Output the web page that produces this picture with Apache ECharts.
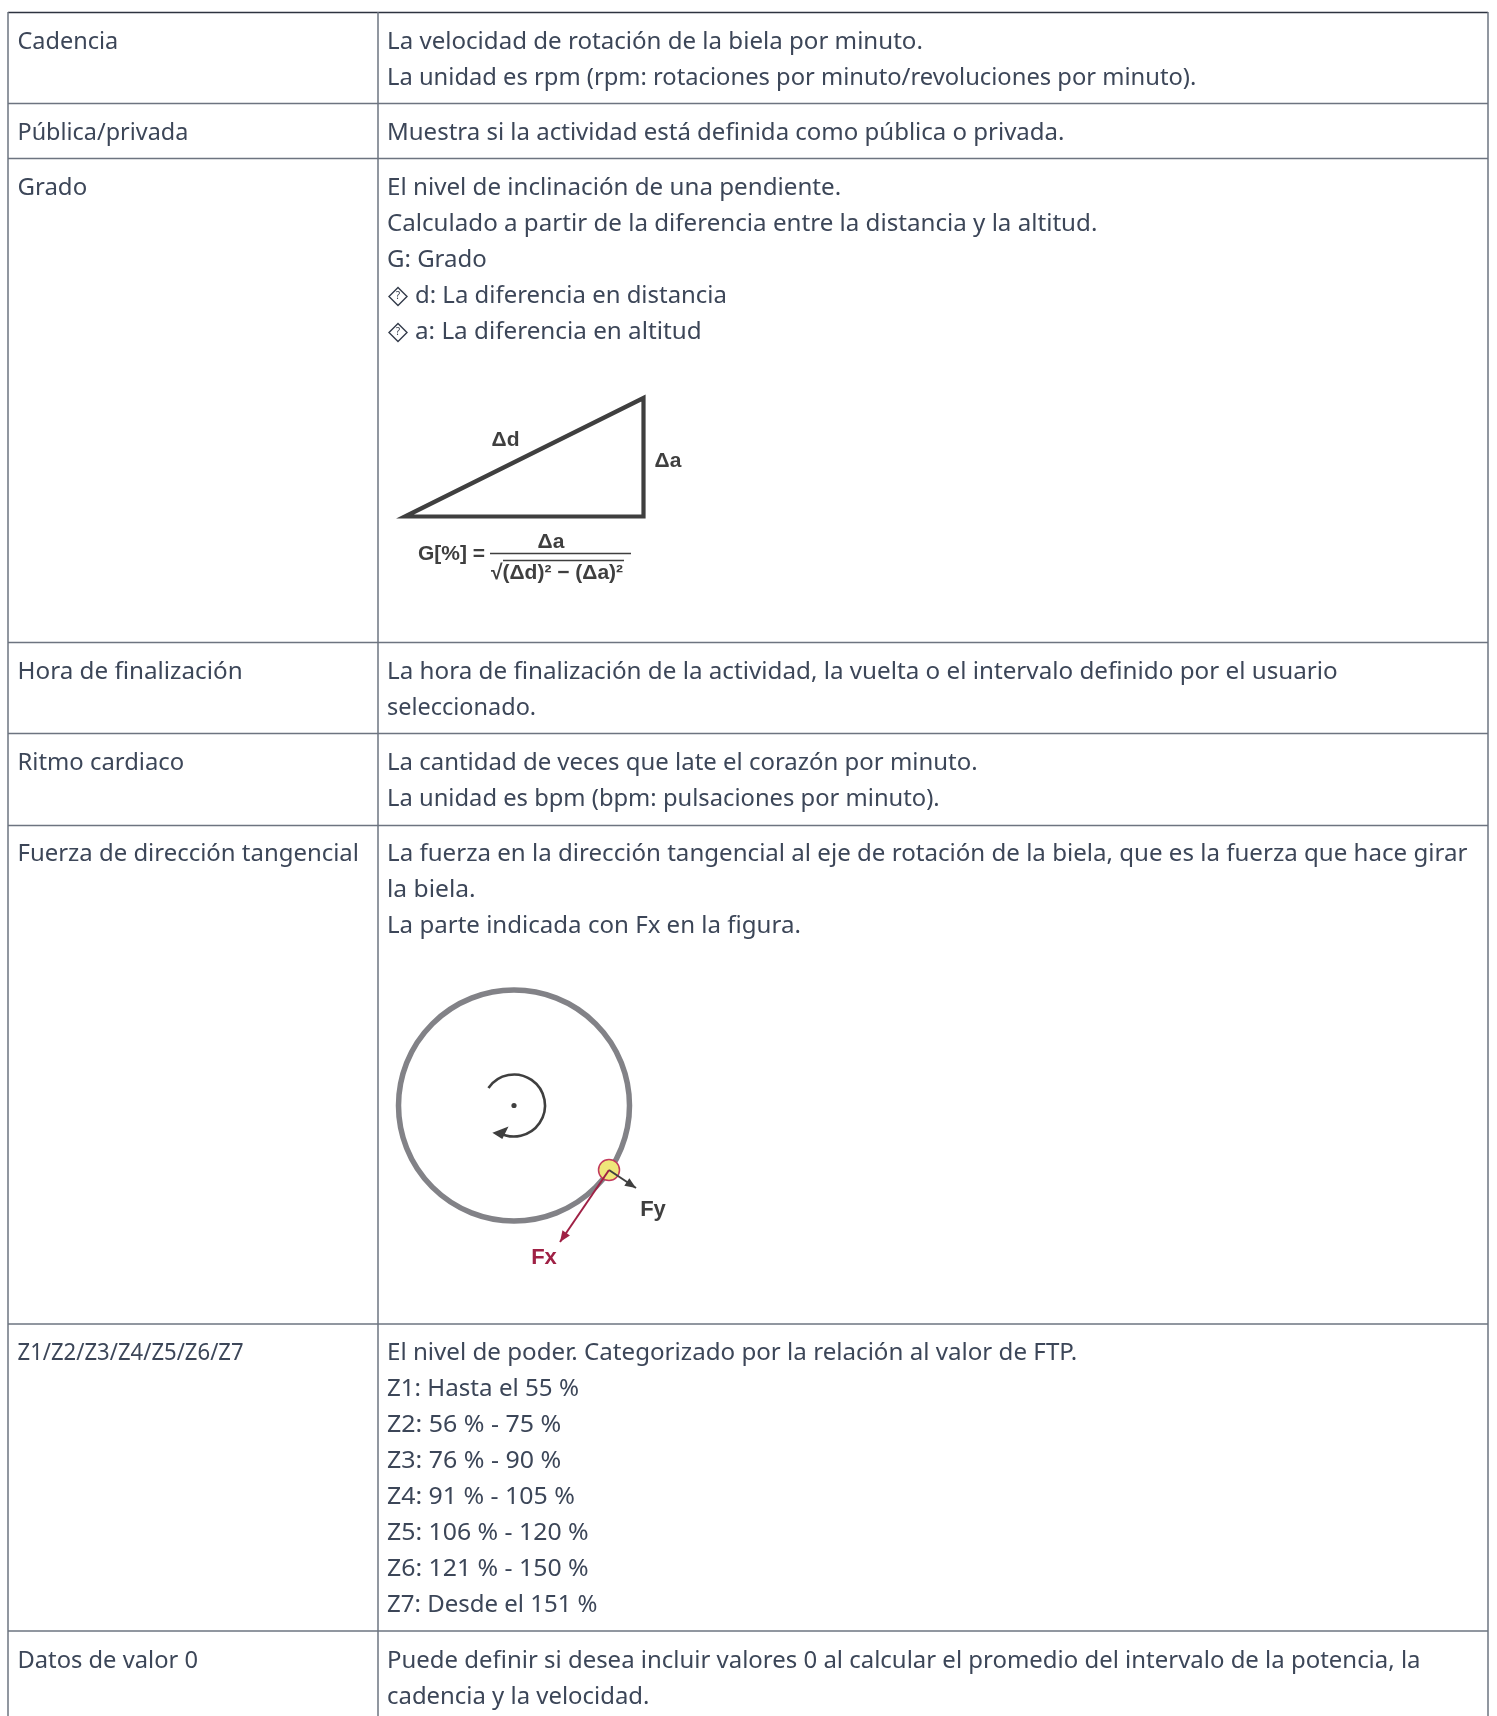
<!DOCTYPE html>
<html><head><meta charset="utf-8">
<style>html,body{margin:0;padding:0;background:#fff}#c{width:1497px;height:1716px}</style>
<script src="https://cdn.jsdelivr.net/npm/echarts@6/dist/echarts.min.js"></script>
</head><body><div id="c"></div>
<script>
var rowLabels = ['Cadencia','Pública/privada','Grado','Hora de finalización','Ritmo cardiaco','Fuerza de dirección tangencial','Z1/Z2/Z3/Z4/Z5/Z6/Z7','Datos de valor 0'];
var cadencia = ['La velocidad de rotación de la biela por minuto.','La unidad es rpm (rpm: rotaciones por minuto/revoluciones por minuto).'];
var publica = ['Muestra si la actividad está definida como pública o privada.'];
var grado = ['El nivel de inclinación de una pendiente.','Calculado a partir de la diferencia entre la distancia y la altitud.','G: Grado','d: La diferencia en distancia','a: La diferencia en altitud'];
var hora = ['La hora de finalización de la actividad, la vuelta o el intervalo definido por el usuario','seleccionado.'];
var ritmo = ['La cantidad de veces que late el corazón por minuto.','La unidad es bpm (bpm: pulsaciones por minuto).'];
var fuerza = ['La fuerza en la dirección tangencial al eje de rotación de la biela, que es la fuerza que hace girar','la biela.','La parte indicada con Fx en la figura.'];
var zonas = ['El nivel de poder. Categorizado por la relación al valor de FTP.','Z1: Hasta el 55 %','Z2: 56 % - 75 %','Z3: 76 % - 90 %','Z4: 91 % - 105 %','Z5: 106 % - 120 %','Z6: 121 % - 150 %','Z7: Desde el 151 %'];
var ceros = ['Puede definir si desea incluir valores 0 al calcular el promedio del intervalo de la potencia, la','cadencia y la velocidad.'];
var rowTexts = [cadencia,publica,grado,hora,ritmo,fuerza,zonas,ceros];
var rowTops = [12.5,103.5,158.5,642.5,733.5,825.5,1324,1631];

// horizontal fit of each line to the reference font's metrics (style only)
var labelFit = [.979,.975,1,1.01,.993,.997,.92,.988];
var textFit = [[1.004,.989],[1],[1.007,1.006,1,.997,1.01],[1.009,.978],[.998,.99],[1.004,1.025,1.003],[1.006,1.006,1.039,1.039,1.036,1.034,1.034,1],[.998,.996]];
var rowOffset = [30,30,30,30,30,29,29,30];

var FONT='"Noto Sans"', TXT='#3c4658', LINE='#6d7480', DARK='#3f3f3f', FIG='"Liberation Sans"';
var g=[];
function line(x1,y1,x2,y2,c,w){g.push({type:'line',silent:true,shape:{x1:x1,y1:y1,x2:x2,y2:y2},style:{stroke:c,lineWidth:w}});}
function txt(s,x,y,o){o=o||{};g.push({type:'text',silent:true,x:x,y:y,scaleX:o.k||1,style:{text:s,fill:o.c||TXT,font:(o.b?'bold ':'')+(o.s||24)+'px '+(o.f||FONT),textAlign:o.a||'left',textVerticalAlign:'middle'}});}
var L=8,M=378,R=1488,B=1716;
rowTops.forEach(function(y,i){
  var OFF=rowOffset[i];
  line(L,y,R,y,i==0?'#2d3340':LINE,i==0?1.5:1.3);
  txt(rowLabels[i],17.5,y+OFF,{k:labelFit[i]});
  rowTexts[i].forEach(function(t,j){
    var bullet = i==2 && j>=3;
    var yy=y+OFF+j*36;
    if(bullet){
      g.push({type:'polygon',silent:true,shape:{points:[[398,yy-9],[407,yy],[398,yy+9],[389,yy]]},style:{fill:'none',stroke:'#333b4a',lineWidth:1.4}});
      txt('?',398,yy,{s:10,a:'center',c:'#333b4a'});
    }
    txt(t,bullet?415:387,yy,{k:textFit[i][j]});
  });
});
[L,M,R].forEach(function(x){line(x,12,x,B,LINE,1.5);});

// triangle figure
g.push({type:'polygon',silent:true,shape:{points:[[405,516.5],[643.5,516.5],[643.5,398]]},style:{fill:'none',stroke:DARK,lineWidth:4.2,lineJoin:'miter'}});
var bf={f:FIG,b:1,c:DARK,s:21};
txt('Δd',505.5,440,Object.assign({a:'center'},bf));
txt('Δa',668,461,Object.assign({a:'center'},bf));
txt('G[%] =',418,554,Object.assign({},bf));
txt('Δa',551,542,Object.assign({a:'center'},bf));
line(490,553.5,631,553.5,DARK,1.5);
txt('√(Δd)² − (Δa)²',557,573,Object.assign({a:'center'},bf));
line(503,560.5,624,560.5,DARK,1.3);

// crank figure
var cx=514,cy=1105.5;
g.push({type:'circle',silent:true,shape:{cx:cx,cy:cy,r:115.5},style:{fill:'none',stroke:'#828287',lineWidth:5.5}});
g.push({type:'arc',silent:true,shape:{cx:cx,cy:cy,r:31,startAngle:-2.54,endAngle:2.1,clockwise:true},style:{fill:'none',stroke:DARK,lineWidth:2.6}});
g.push({type:'circle',silent:true,shape:{cx:cx,cy:cy,r:2.6},style:{fill:DARK}});
g.push({type:'circle',silent:true,shape:{cx:609,cy:1170,r:10.5},style:{fill:'#efe77a',stroke:'#c23a5c',lineWidth:1.5}});
g.push({type:'polygon',silent:true,shape:{points:[[494,1133],[507,1128],[502,1138]]},style:{fill:DARK,stroke:DARK,lineWidth:1.5}});
function arrow(x1,y1,x2,y2,c){
  line(x1,y1,x2,y2,c,2);
  var a=Math.atan2(y2-y1,x2-x1),l=11,h=4.5,bx=x2-l*Math.cos(a),by=y2-l*Math.sin(a);
  g.push({type:'polygon',silent:true,shape:{points:[[x2,y2],[bx-h*Math.sin(a),by+h*Math.cos(a)],[bx+h*Math.sin(a),by-h*Math.cos(a)]]},style:{fill:c}});
}
arrow(609,1170,636,1188,DARK);
arrow(609,1170,560,1242,'#9f2145');
txt('Fy',653,1210,{f:FIG,b:1,c:DARK,s:22,a:'center'});
txt('Fx',544,1258,{f:FIG,b:1,c:'#9f2145',s:22,a:'center'});

var chart=echarts.init(document.getElementById('c'),null,{renderer:'canvas'});
chart.setOption({animation:false,backgroundColor:'#fff',graphic:{elements:g}});
</script></body></html>
